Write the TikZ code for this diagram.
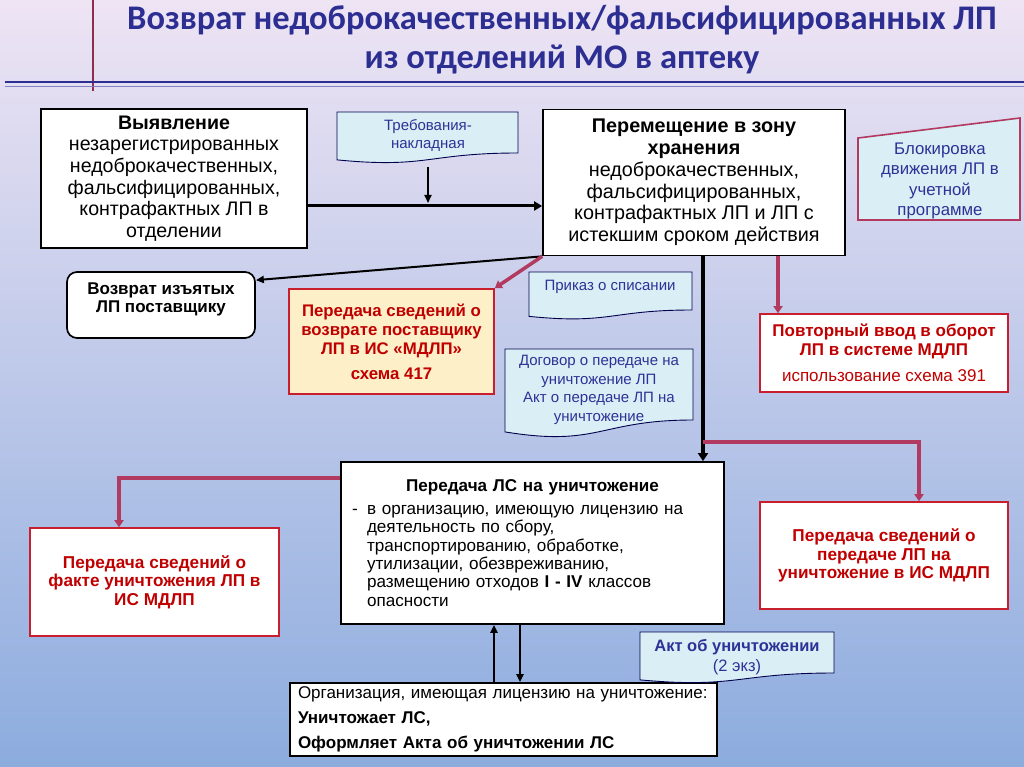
\documentclass[tikz,border=0pt]{standalone}
\usepackage{fontspec}
\setmainfont{Liberation Sans}
\newfontfamily\titlefont{Carlito}
\usetikzlibrary{arrows.meta,positioning,calc}
\definecolor{slideNavy}{RGB}{44,46,146}
\definecolor{slideMaroon}{RGB}{178,58,96}
\definecolor{slideRed}{RGB}{192,0,0}
\definecolor{slideRedLine}{RGB}{200,30,45}
\definecolor{slideCyan}{RGB}{218,238,246}
\definecolor{slideDocText}{RGB}{45,50,150}
\definecolor{slideCream}{RGB}{253,240,200}
\definecolor{slideTop}{RGB}{238,228,244}
\definecolor{slideMid}{RGB}{202,200,236}
\definecolor{slideBottom}{RGB}{140,172,222}
\newcommand{\fsz}[2]{\fontsize{#1}{#2}\selectfont}
% wavy "document" outline: x1, y1, x2, y2 (right bottom)
\newcommand{\docshape}[4]{%
  \pgfmathsetmacro{\docm}{(#1+#3)/2}%
  \pgfmathsetmacro{\doch}{(#4-#2)/0.8}%
  \draw[docline] (#1,#2) -- (#3,#2) -- (#3,#4)
    .. controls (\docm,#4) and (\docm,#2+1.107*\doch) .. (#1,#2+0.934*\doch) -- cycle;}

\begin{document}
\begin{tikzpicture}[x=1pt, y=-1pt,
  box/.style={draw=black, line width=1.7pt, fill=white, align=center, inner sep=0pt},
  redbox/.style={draw=slideRedLine, line width=1.6pt, fill=white, align=center,
                 inner sep=0pt, text=slideRed, font=\fsz{17.2}{18.6}\bfseries},
  docline/.style={draw=black!70!blue, line width=0.9pt, fill=slideCyan},
  doctxt/.style={align=center, text=slideDocText, font=\fsz{15}{18}},
  arr/.style={-{Triangle[length=8pt,width=7pt]}, line width=2pt},
  marr/.style={draw=slideMaroon, line width=3.5pt, -{Triangle[length=7pt,width=9pt]}}
]
  \useasboundingbox (0,0) rectangle (1024,767);
  \shade[top color=slideTop, middle color=slideMid, bottom color=slideBottom] (0,0) rectangle (1024,767);

  % title and rules
  \draw[slideMaroon!80!black, line width=2pt] (93,0) -- (93,91);
  \draw[slideNavy, line width=2.5pt] (5,82) -- (1024,82);
  \draw[slideNavy!60, line width=1pt] (5,87) -- (1024,87);
  \node[align=center, text=slideNavy, font=\titlefont\bfseries\fsz{34.5}{39}] (title) at (562,40)
    {Возврат недоброкачественных/фальсифицированных ЛП\\из отделений МО в аптеку};

  % main boxes
  \node[box, minimum width=266, minimum height=139, font=\fsz{19.6}{21.7}] (find) at (174,178.5)
    {\textbf{Выявление}\\незарегистрированных\\недоброкачественных,\\фальсифицированных,\\контрафактных ЛП в\\отделении};
  \node[box, minimum width=302, minimum height=146, font=\fsz{19.8}{21.8}] (store) at (694,182.5)
    {\textbf{Перемещение в зону}\\\textbf{хранения}\\недоброкачественных,\\фальсифицированных,\\контрафактных ЛП и ЛП с\\истекшим сроком действия};
  \node[box, rounded corners=10pt, minimum width=188, minimum height=66, font=\fsz{17}{18.3}\bfseries] (ret) at (161,305)
    {Возврат изъятых\\ЛП поставщику\\[-4pt]\mbox{}};
  \node[redbox, fill=slideCream, minimum width=205, minimum height=105, font=\fsz{16.8}{19}\bfseries] (info417) at (391.5,341.5)
    {Передача сведений о\\возврате поставщику\\ЛП в ИС «МДЛП»\\[6pt]схема 417};
  \node[redbox, minimum width=248, minimum height=78, font=\fsz{17}{18.5}\bfseries] (reenter) at (884,353)
    {Повторный ввод в оборот\\ЛП в системе МДЛП\\[8pt]{\mdseries\fsz{17}{18}использование схема 391}};
  \node[box, minimum height=162, text width=361, inner xsep=11pt, align=left, font=\fsz{17.1}{18.3}] (destroy) at (532.5,543)
    {\makebox[361pt]{\textbf{Передача ЛС на уничтожение}}\\[4.7pt]
     \makebox[15pt][l]{-}в организацию, имеющую лицензию на\\
     \hspace*{15pt}деятельность по сбору,\\
     \hspace*{15pt}транспортированию, обработке,\\
     \hspace*{15pt}утилизации, обезвреживанию,\\
     \hspace*{15pt}размещению отходов \textbf{I - IV} классов\\
     \hspace*{15pt}опасности};
  \node[redbox, minimum width=249, minimum height=108] (leftinfo) at (154.5,582)
    {Передача сведений о\\факте уничтожения ЛП в\\ИС МДЛП};
  \node[redbox, minimum width=248, minimum height=107] (rightinfo) at (884,555.5)
    {Передача сведений о\\передаче ЛП на\\уничтожение в ИС МДЛП};
  \node[box, minimum height=73, text width=411, inner xsep=8pt, align=left, font=\fsz{17}{25}] (org) at (503.5,719.5)
    {Организация, имеющая лицензию на уничтожение:\\\textbf{Уничтожает ЛС,}\\\textbf{Оформляет Акта об уничтожении ЛС}};

  % documents
  \docshape{337}{112}{518}{153}
  \node[doctxt] (treb) at (428,135) {Требования-\\накладная};
  \docshape{529}{272}{692}{310}
  \node[doctxt] (prikaz) at (610,287) {Приказ о списании};
  \docshape{505}{349}{693}{420}
  \node[doctxt, font=\fsz{15}{18.5}] (dogovor) at (599,390)
    {Договор о передаче на\\уничтожение ЛП\\Акт о передаче ЛП на\\уничтожение};
  \docshape{640}{632}{834}{673}
  \node[doctxt, font=\fsz{16.5}{20}] (akt) at (737,657) {\textbf{Акт об уничтожении}\\(2 экз)};
  \draw[draw=slideMaroon, line width=1.6pt, fill=slideCyan] (858,138) -- (1020,118) -- (1020,220) -- (858,220) -- cycle;
  \node[doctxt, font=\fsz{16.8}{20.3}] (block) at (940,181) {Блокировка\\движения ЛП в\\учетной\\программе};

  % black connectors
  \coordinate (joint) at (428,206);
  \coordinate (split) at (703,442);
  \draw[line width=3pt, -{Triangle[length=8pt,width=9pt]}] (find.east |- joint) -- (store.west |- joint);
  \draw[arr, line width=1.8pt] (428,167) -- ([yshift=3pt]joint);
  \draw[arr, line width=2pt] (store.south west) -- ([yshift=-9pt]ret.north east);
  \draw[line width=4pt, -{Triangle[length=8pt,width=10pt]}] (store.south -| split) -- (destroy.north -| split);
  \draw[arr, line width=2.3pt] ([xshift=-38.5pt]destroy.south |- org.north) -- ([xshift=-38.5pt]destroy.south);
  \draw[arr] ([xshift=-12.5pt]destroy.south) -- ([xshift=-12.5pt]destroy.south |- org.north);

  % maroon connectors
  \coordinate (rturn) at (919,442);
  \coordinate (lturn) at (119,478);
  \draw[marr] (store.south west) -- (info417.north east);
  \draw[marr] ([xshift=84pt]store.south) -- ([xshift=84pt]store.south |- reenter.north);
  \draw[marr] (split) -- (rturn) -- (rturn |- rightinfo.north);
  \draw[marr] (destroy.west |- lturn) -- (lturn) -- (lturn |- leftinfo.north);
\end{tikzpicture}
\end{document}
